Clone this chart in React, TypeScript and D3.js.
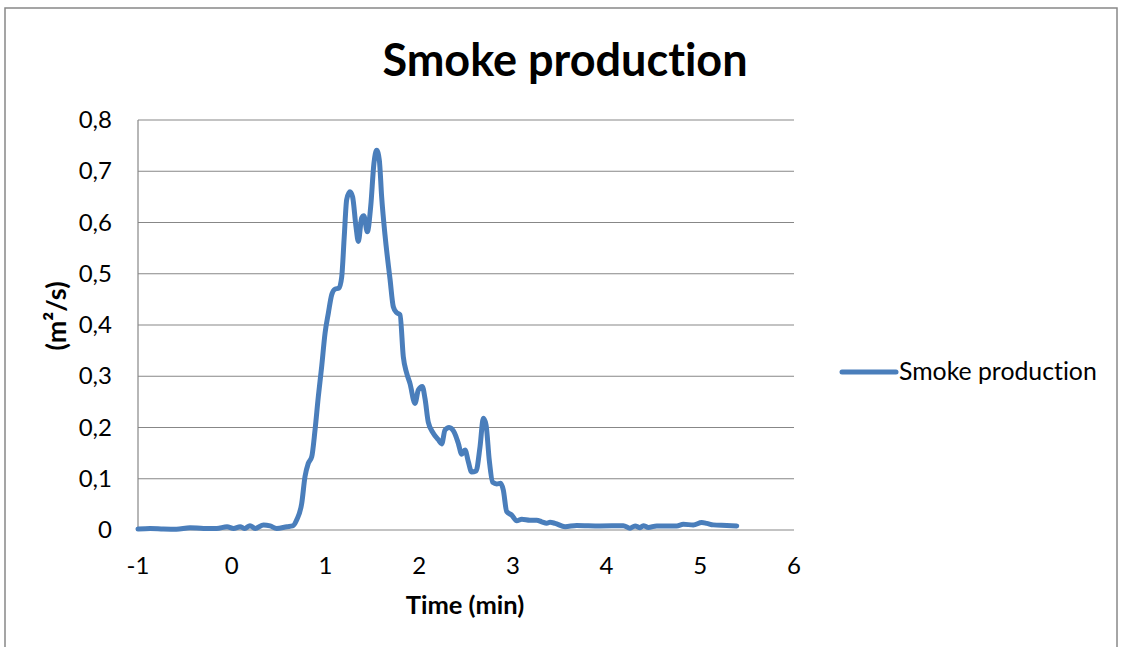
import React from "react";
import * as d3 from "d3";

const times: number[] = [
  -1.0, -0.87, -0.73, -0.59, -0.445, -0.3, -0.16, -0.05, 0.02, 0.09, 0.14, 0.195, 0.25, 0.34, 0.41, 0.48, 0.59, 0.65,
  0.694, 0.747, 0.782, 0.817, 0.854, 0.889, 0.924, 0.96, 0.996, 1.031, 1.067, 1.102, 1.145, 1.174, 1.2, 1.227, 1.262,
  1.29, 1.326, 1.351, 1.387, 1.41, 1.447, 1.483, 1.518, 1.547, 1.575, 1.6, 1.636, 1.689, 1.725, 1.76, 1.796, 1.831,
  1.867, 1.902, 1.956, 1.991, 2.034, 2.063, 2.098, 2.151, 2.205, 2.241, 2.276, 2.319, 2.376, 2.418, 2.454, 2.49,
  2.525, 2.56, 2.607, 2.65, 2.685, 2.714, 2.749, 2.785, 2.828, 2.87, 2.898, 2.934, 2.988, 3.041, 3.095, 3.183,
  3.254, 3.308, 3.361, 3.397, 3.45, 3.557, 3.681, 3.93, 4.179, 4.25, 4.304, 4.357, 4.392, 4.446, 4.535, 4.749,
  4.819, 4.926, 5.015, 5.069, 5.139, 5.282, 5.389,
];

const smoke: number[] = [
  0.002, 0.003, 0.002, 0.0015, 0.0045, 0.003, 0.003, 0.0065, 0.003, 0.0065, 0.003, 0.0085, 0.003, 0.01, 0.008, 0.003,
  0.0065, 0.008, 0.02, 0.052, 0.104, 0.13, 0.143, 0.195, 0.26, 0.319, 0.384, 0.423, 0.459, 0.47, 0.472, 0.494, 0.57,
  0.645, 0.66, 0.65, 0.592, 0.563, 0.609, 0.613, 0.582, 0.631, 0.716, 0.741, 0.722, 0.65, 0.575, 0.49, 0.435, 0.424,
  0.42, 0.338, 0.306, 0.286, 0.247, 0.273, 0.28, 0.256, 0.21, 0.189, 0.176, 0.168, 0.195, 0.2, 0.19, 0.169, 0.148,
  0.156, 0.133, 0.113, 0.115, 0.163, 0.218, 0.205, 0.135, 0.093, 0.09, 0.091, 0.078, 0.036, 0.029, 0.018, 0.021,
  0.019, 0.019, 0.016, 0.013, 0.015, 0.013, 0.0065, 0.009, 0.008, 0.0085, 0.0035, 0.008, 0.0045, 0.0085, 0.005,
  0.008, 0.008, 0.011, 0.01, 0.0145, 0.013, 0.01, 0.009, 0.008,
];

const xTicks: number[] = [-1, 0, 1, 2, 3, 4, 5, 6];
const yTicks: number[] = [0, 0.1, 0.2, 0.3, 0.4, 0.5, 0.6, 0.7, 0.8];

const title = "Smoke production";
const seriesName = "Smoke production";
const xTitle = "Time (min)";
const yTitle = "(m²/s)";

const FONT = "Lato, 'Open Sans', sans-serif";
const BLUE = "#4A7EBB";
const GRID = "#878787";

export default function App() {
  const W = 1121;
  const H = 647;
  const x = d3.scaleLinear().domain([-1, 6]).range([138, 794]);
  const y = d3.scaleLinear().domain([0, 0.8]).range([530, 120]);

  const data = times.map((t, i) => [t, smoke[i]] as [number, number]);
  const line = d3
    .line<[number, number]>()
    .x((d) => x(d[0]))
    .y((d) => y(d[1]))
    .curve(d3.curveMonotoneX);

  const fmt = (v: number) => (v === 0 ? "0" : d3.format(".1f")(v).replace(".", ","));

  return (
    <svg
      width={W}
      height={H}
      style={{
        position: "absolute",
        left: 0,
        top: 0,
        background: "#fff",
        fontVariantLigatures: "none",
        fontFeatureSettings: '"liga" 0, "clig" 0',
      }}
      fontFamily={FONT}
    >
      <rect x={0} y={0} width={W} height={H} fill="#fff" />
      <rect x={5} y={8} width={1112} height={700} fill="none" stroke="#888" strokeWidth={1.5} />

      <text x={565} y={76} textAnchor="middle" fontSize={45} fontWeight="bold" fill="#000">
        {title}
      </text>

      {yTicks.map((t) => (
        <line key={"g" + t} x1={138} x2={794} y1={y(t)} y2={y(t)} stroke={GRID} strokeWidth={1.2} />
      ))}
      <line x1={138} x2={138} y1={120} y2={530} stroke={GRID} strokeWidth={1.2} />

      {yTicks.map((t) => (
        <text key={"yl" + t} x={112} y={y(t) + 8} textAnchor="end" fontSize={24} fill="#000">
          {fmt(t)}
        </text>
      ))}
      {xTicks.map((t) => (
        <text key={"xl" + t} x={x(t)} y={574} textAnchor="middle" fontSize={24} fill="#000">
          {String(t)}
        </text>
      ))}

      <text x={465} y={614} textAnchor="middle" fontSize={25.5} fontWeight="bold" fill="#000">
        {xTitle}
      </text>
      <text
        transform="translate(66,316) rotate(-90)"
        textAnchor="middle"
        fontSize={27}
        fontWeight="bold"
        fill="#000"
      >
        {yTitle}
      </text>

      <path
        d={line(data) || ""}
        fill="none"
        stroke={BLUE}
        strokeWidth={5}
        strokeLinejoin="round"
        strokeLinecap="round"
      />

      <line x1={842} x2={896} y1={372} y2={372} stroke={BLUE} strokeWidth={5} strokeLinecap="round" />
      <text x={899} y={380} fontSize={24.8} fill="#000">
        {seriesName}
      </text>
    </svg>
  );
}
